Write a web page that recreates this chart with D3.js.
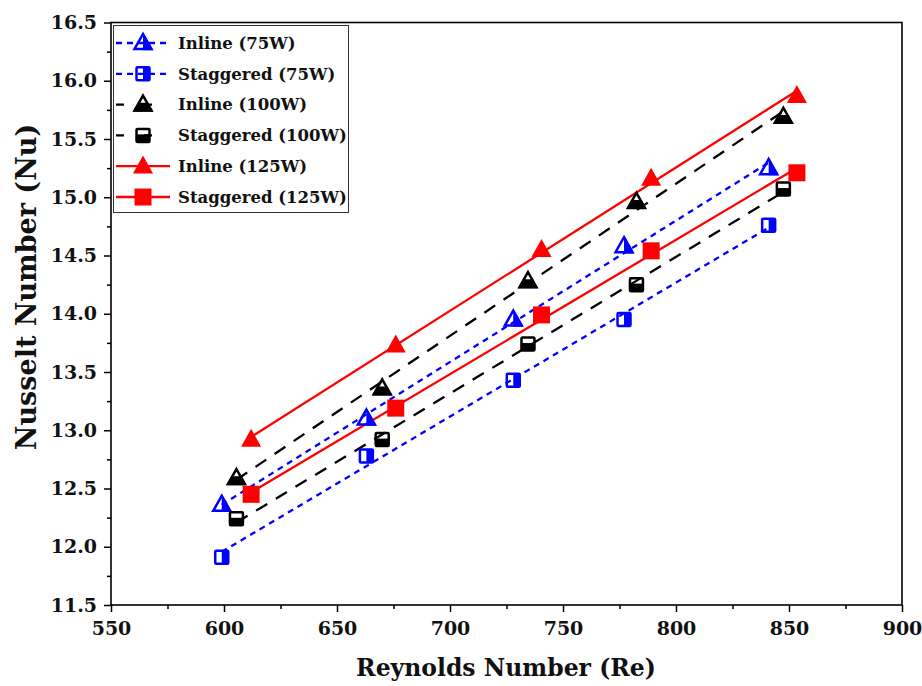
<!DOCTYPE html>
<html>
<head>
<meta charset="utf-8">
<script src="https://cdn.jsdelivr.net/npm/d3@7"></script>
<style>
  body { margin: 0; background: #fff; }
  svg text { font-family: "DejaVu Serif", serif; font-weight: bold; fill: #111; }
</style>
</head>
<body>
<div id="chart"></div>
<script>
// values
var re75  = [599, 663, 728, 777, 841]
var inline75 = [12.36, 13.10, 13.95, 14.58, 15.25]
var stag75   = [11.91, 12.78, 13.43, 13.95, 14.76]

var re100 = [605.5, 670, 734.5, 782.5, 847.5]
var inline100 = [12.59, 13.36, 14.28, 14.96, 15.69]
var stag100   = [12.24, 12.92, 13.74, 14.25, 15.07]

var re125 = [612, 676, 740.5, 789, 853.5]
var inline125 = [12.92, 13.73, 14.55, 15.16, 15.87]
var stag125   = [12.45, 13.19, 13.99, 14.54, 15.21]

var seriesNames = ["Inline (75W)", "Staggered (75W)", "Inline (100W)",
                   "Staggered (100W)", "Inline (125W)", "Staggered (125W)"]

var xTicks = [550, 600, 650, 700, 750, 800, 850, 900]
var yTicks = [11.5, 12.0, 12.5, 13.0, 13.5, 14.0, 14.5, 15.0, 15.5, 16.0, 16.5]

var series = [
    { name: seriesNames[0], x: re75,  y: inline75,  color: "#0000ff", dash: "6,5",   shape: "tri", fill: "right" },
    { name: seriesNames[1], x: re75,  y: stag75,    color: "#0000ff", dash: "6,5",   shape: "sq",  fill: "right" },
    { name: seriesNames[2], x: re100, y: inline100, color: "#000000", dash: "13,10", shape: "tri", fill: "bottom" },
    { name: seriesNames[3], x: re100, y: stag100,   color: "#000000", dash: "13,10", shape: "sq",  fill: "bottom" },
    { name: seriesNames[4], x: re125, y: inline125, color: "#ff0000", dash: null,    shape: "tri", fill: "full" },
    { name: seriesNames[5], x: re125, y: stag125,   color: "#ff0000", dash: null,    shape: "sq",  fill: "full" }
]

var width = 922, height = 686

var x = d3.scaleLinear().domain([550, 900]).range([111, 902])
var y = d3.scaleLinear().domain([11.5, 16.5]).range([605, 22.5])

var svg = d3.select("#chart").append("svg")
    .attr("width", width)
    .attr("height", height)

// linear fit for each series
function fit(xs, ys) {
    var mx = d3.mean(xs), my = d3.mean(ys)
    var sxy = 0, sxx = 0
    for (var i = 0; i < xs.length; i++) {
        sxy += (xs[i] - mx) * (ys[i] - my)
        sxx += (xs[i] - mx) * (xs[i] - mx)
    }
    var b = sxy / sxx
    return function (v) { return my + b * (v - mx) }
}

// marker drawing
function drawMarker(g, shape, fill, color, cx, cy) {
    if (shape == "tri") {
        var w = 20, h = 18
        var top = [cx, cy - h * 0.6], bl = [cx - w / 2, cy + h * 0.4], br = [cx + w / 2, cy + h * 0.4]
        if (fill == "full") {
            g.append("path")
                .attr("d", "M" + top + "L" + br + "L" + bl + "Z")
                .attr("fill", color)
        } else {
            if (fill == "right") {
                g.append("path")
                    .attr("d", "M" + top + "L" + br + "L" + [cx, bl[1]] + "Z")
                    .attr("fill", color)
            } else {
                var my = cy - h * 0.1
                g.append("path")
                    .attr("d", "M" + [cx - w / 4, my] + "L" + [cx + w / 4, my] + "L" + br + "L" + bl + "Z")
                    .attr("fill", color)
            }
            var w2 = w - 3, h2 = h - 3
            g.append("path")
                .attr("d", "M" + [cx, cy - h2 * 0.6] + "L" + [cx + w2 / 2, cy + h2 * 0.4] + "L" + [cx - w2 / 2, cy + h2 * 0.4] + "Z")
                .attr("fill", "none")
                .attr("stroke", color)
                .attr("stroke-width", 2.5)
                .attr("stroke-linejoin", "miter")
        }
    } else {
        if (fill == "full") {
            g.append("rect")
                .attr("x", cx - 8.5).attr("y", cy - 8.5)
                .attr("width", 17).attr("height", 17)
                .attr("fill", color)
        } else {
            var s = 13
            if (fill == "right") {
                g.append("rect")
                    .attr("x", cx).attr("y", cy - s / 2)
                    .attr("width", s / 2).attr("height", s)
                    .attr("fill", color)
            } else {
                g.append("rect")
                    .attr("x", cx - s / 2).attr("y", cy - 1)
                    .attr("width", s).attr("height", s / 2 + 1)
                    .attr("fill", color)
            }
            g.append("rect")
                .attr("x", cx - s / 2).attr("y", cy - s / 2)
                .attr("width", s).attr("height", s)
                .attr("rx", 1)
                .attr("fill", "none")
                .attr("stroke", color)
                .attr("stroke-width", 2.5)
        }
    }
}

// fit lines
var plot = svg.append("g")
series.forEach(function (s) {
    var f = fit(s.x, s.y)
    var x0 = d3.min(s.x), x1 = d3.max(s.x)
    var line = plot.append("line")
        .attr("x1", x(x0)).attr("y1", y(f(x0)))
        .attr("x2", x(x1)).attr("y2", y(f(x1)))
        .attr("stroke", s.color)
        .attr("stroke-width", 2.3)
    if (s.dash) line.attr("stroke-dasharray", s.dash)
})

// markers
series.forEach(function (s) {
    var g = plot.append("g")
    for (var i = 0; i < s.x.length; i++) {
        drawMarker(g, s.shape, s.fill, s.color, x(s.x[i]), y(s.y[i]))
    }
})

// axes
var xAxis = d3.axisBottom(x).tickValues(xTicks).tickSize(7).tickFormat(d3.format("d"))
var xMinor = d3.axisBottom(x).tickValues(d3.range(575, 900, 50)).tickSize(4).tickFormat("")
var yAxis = d3.axisLeft(y).tickValues(yTicks).tickSize(7).tickFormat(d3.format(".1f"))
var yMinor = d3.axisLeft(y).tickValues(d3.range(11.75, 16.5, 0.5)).tickSize(4).tickFormat("")

function styleAxis(g) {
    g.select(".domain").remove()
    g.selectAll(".tick line").attr("stroke", "#000").attr("stroke-width", 1.5)
}

var gx = svg.append("g").attr("transform", "translate(0,605)").call(xAxis).call(styleAxis)
gx.selectAll("text").attr("font-size", 19).attr("dy", "1.05em").style("font-family", "DejaVu Serif").style("font-weight", "bold").attr("fill", "#111")
svg.append("g").attr("transform", "translate(0,605)").call(xMinor).call(styleAxis)

var gy = svg.append("g").attr("transform", "translate(111,0)").call(yAxis).call(styleAxis)
gy.selectAll("text").attr("font-size", 19).attr("x", -14).style("font-family", "DejaVu Serif").style("font-weight", "bold").attr("fill", "#111")
svg.append("g").attr("transform", "translate(111,0)").call(yMinor).call(styleAxis)

// frame
svg.append("rect")
    .attr("x", 111).attr("y", 22.5)
    .attr("width", 902 - 111).attr("height", 605 - 22.5)
    .attr("fill", "none")
    .attr("stroke", "#000")
    .attr("stroke-width", 1.6)

// legend
var legend = svg.append("g")
legend.append("rect")
    .attr("x", 113.5).attr("y", 25.5)
    .attr("width", 235).attr("height", 187)
    .attr("fill", "#fff")
    .attr("stroke", "#333")
    .attr("stroke-width", 1)

series.forEach(function (s, i) {
    var ly = 43 + i * 30.8
    var l = legend.append("line")
        .attr("x1", 116).attr("x2", 170)
        .attr("y1", ly).attr("y2", ly)
        .attr("stroke", s.color)
        .attr("stroke-width", 2.3)
    if (s.dash) l.attr("stroke-dasharray", s.dash == "6,5" ? "6,5" : "8,20")
    drawMarker(legend.append("g"), s.shape, s.fill, s.color, 143, ly)
    legend.append("text")
        .attr("x", 178).attr("y", ly)
        .attr("dy", "0.35em")
        .attr("font-size", 16.5)
        .text(s.name)
})

// axis titles
svg.append("text")
    .attr("x", 506).attr("y", 676)
    .attr("text-anchor", "middle")
    .attr("font-size", 23.5)
    .text("Reynolds Number (Re)")

svg.append("text")
    .attr("transform", "translate(36,287) rotate(-90)")
    .attr("text-anchor", "middle")
    .attr("font-size", 27)
    .text("Nusselt Number (Nu)")
</script>
</body>
</html>
